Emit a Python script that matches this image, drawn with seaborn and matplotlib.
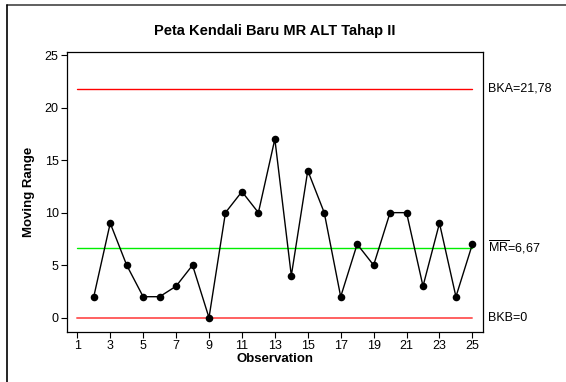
import matplotlib
matplotlib.use("Agg")
import matplotlib.pyplot as plt
from matplotlib.lines import Line2D
import seaborn as sns
import pandas as pd

# Moving range values for observations 2..25 (observation 1 has no moving range)
observations = list(range(2, 26))
moving_range = [2, 9, 5, 2, 2, 3, 5, 0, 10, 12, 10, 17, 4, 14, 10, 2, 7, 5, 10, 10, 3, 9, 2, 7]

ucl = 21.78
center = 6.67
lcl = 0.0

title = "Peta Kendali Baru MR ALT Tahap II"
xlabel = "Observation"
ylabel = "Moving Range"
xticks = list(range(1, 26, 2))
yticks = [0, 5, 10, 15, 20, 25]

sns.set_theme(style="white")
plt.rcParams["font.family"] = ["Liberation Sans", "DejaVu Sans"]
plt.rcParams["text.color"] = "black"
plt.rcParams["axes.labelcolor"] = "black"
plt.rcParams["xtick.color"] = "black"
plt.rcParams["ytick.color"] = "black"
plt.rcParams["mathtext.fontset"] = "custom"
plt.rcParams["mathtext.rm"] = "Liberation Sans"

df = pd.DataFrame({"Observation": observations, "MR": moving_range})

fig = plt.figure(figsize=(5.66, 3.82), dpi=100)
ax = fig.add_axes([0.1184, 0.1317, 0.7344, 0.7322])

# Control limits
ax.plot([1, 25], [ucl, ucl], color="#ff0000", lw=1.0, zorder=1)
ax.plot([1, 25], [lcl, lcl], color="#ff6060", lw=1.4, zorder=1)
ax.plot([1, 25], [center, center], color="#00ee00", lw=1.0, zorder=1)

sns.lineplot(data=df, x="Observation", y="MR", color="black", lw=1.0, ax=ax, zorder=2)
sns.scatterplot(data=df, x="Observation", y="MR", color="black", s=30, edgecolor="black",
                linewidth=0, ax=ax, zorder=3)

ax.set_xlim(0.375, 25.625)
ax.set_ylim(-1.33, 25.29)
ax.set_xticks(xticks)
ax.set_yticks(yticks)
ax.tick_params(axis="both", direction="out", length=4, width=0.8, color="black",
               labelcolor="black", labelsize=9, pad=2, bottom=True, left=True)
for s in ax.spines.values():
    s.set_color("black")
    s.set_linewidth(0.9)

ax.set_xlabel(xlabel, fontsize=9.5, fontweight="bold", labelpad=1, color="black")
ax.set_ylabel(ylabel, fontsize=9.5, fontweight="bold", labelpad=7, color="black")
ax.set_title(title, fontsize=10.5, fontweight="bold", pad=12, color="black")

# Limit labels on the right
ax.text(25.95, ucl, "BKA=21,78", va="center", ha="left", fontsize=9, clip_on=False)
ax.text(25.95, center, r"$\overline{\mathrm{MR}}$=6,67", va="center", ha="left", fontsize=9,
        clip_on=False)
ax.text(25.95, lcl, "BKB=0", va="center", ha="left", fontsize=9, clip_on=False)

# Frame lines on the top and left of the figure
fig.add_artist(Line2D([6.5 / 566, 1.0], [1 - 4.5 / 382] * 2, color="#444444", lw=1.2,
                      transform=fig.transFigure))
fig.add_artist(Line2D([6.5 / 566] * 2, [0.0, 1 - 4.5 / 382], color="black", lw=1.2,
                      transform=fig.transFigure))

fig.savefig("out.png", dpi=100)
